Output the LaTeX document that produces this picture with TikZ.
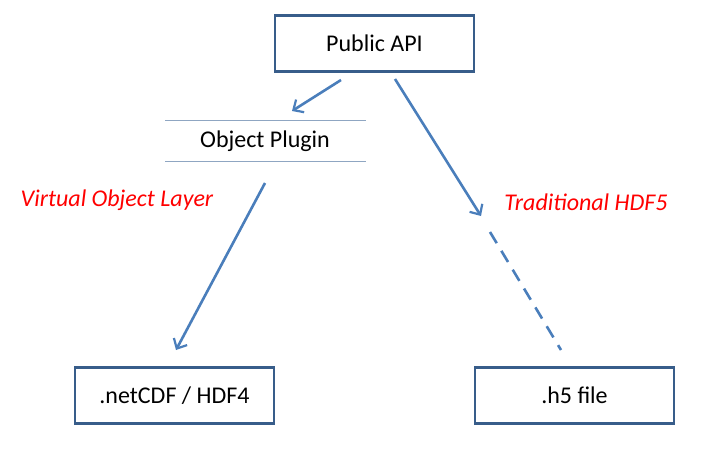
\documentclass[tikz,border=0pt]{standalone}
\usepackage{fontspec}
\setmainfont{Carlito}
\usetikzlibrary{arrows.meta}
\definecolor{boxblue}{HTML}{385D8A}
\definecolor{arrblue}{HTML}{4A7EBB}
\definecolor{linegray}{HTML}{8FA6C2}
\begin{document}
\begin{tikzpicture}[x=1pt,y=-1pt,
  box/.style={draw=boxblue,line width=2.5pt,fill=white,minimum width=199pt,minimum height=56pt,inner sep=0pt,font=\fontsize{24}{28}\selectfont},
  conn/.style={draw=arrblue,line width=2.6pt,-{Straight Barb[length=8pt,width=15pt,line width=2.2pt]}},
  lab/.style={text=red,font=\fontsize{24}{28}\selectfont\itshape}]
\useasboundingbox (0,0) rectangle (714,464);
\node[box] (api) at (374.5,43.5) {Public API};
\node[box] (net) at (174.5,395.5) {.netCDF / HDF4};
\node[box] (h5) at (574.5,395.5) {.h5 file};
\node[font=\fontsize{24}{28}\selectfont] (plug) at (265,141) {Object Plugin};
\coordinate (pl1) at (165,120); \coordinate (pr1) at (366,120);
\coordinate (pl2) at (165,161); \coordinate (pr2) at (366,161);
\draw[linegray,line width=0.8pt] (pl1) -- (pr1) (pl2) -- (pr2);
\node[lab] (vol) at (117,200) {Virtual Object Layer};
\node[lab] (trad) at (586,202) {Traditional HDF5};
\coordinate (a1s) at (341,80); \coordinate (a1e) at (292,111);
\coordinate (a2s) at (265,183); \coordinate (a2e) at (176,350);
\coordinate (a3s) at (395,79); \coordinate (a3e) at (481,216);
\coordinate (d1) at (490,232); \coordinate (d2) at (561,350);
\draw[conn] (a1s) -- (a1e);
\draw[conn] (a2s) -- (a2e);
\draw[conn] (a3s) -- (a3e);
\draw[arrblue,line width=2.6pt,dash pattern=on 13pt off 9pt] (d1) -- (d2);
\end{tikzpicture}
\end{document}
